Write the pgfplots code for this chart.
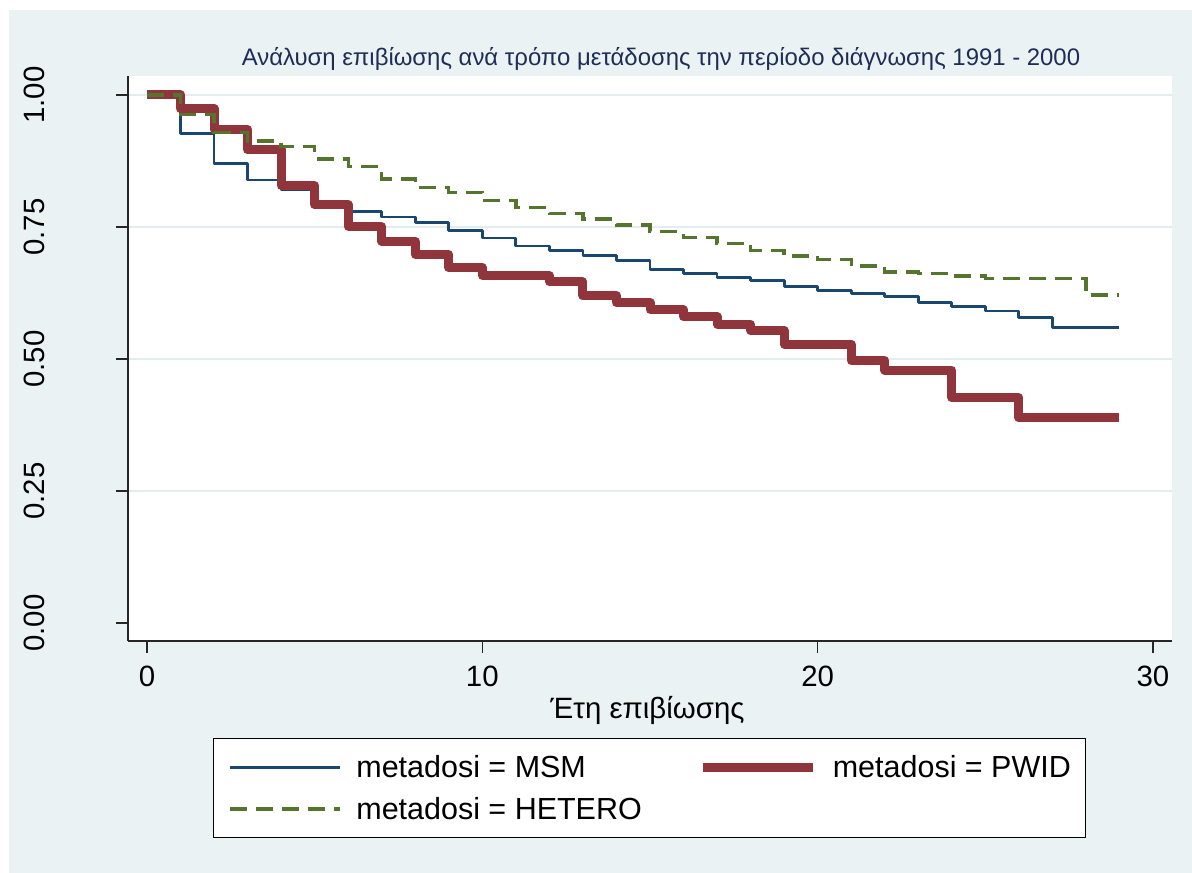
\documentclass[border=0pt]{standalone}
\usepackage{fontspec}
\setmainfont{Liberation Sans}
\usepackage{pgfplots}
\pgfplotsset{compat=1.18}
\definecolor{bgblue}{HTML}{EAF2F3}
\definecolor{gridc}{HTML}{E3ECEE}
\definecolor{msm}{HTML}{1A476F}
\definecolor{pwid}{HTML}{90353B}
\definecolor{hetero}{HTML}{55752F}
\definecolor{titlec}{HTML}{1E2D55}
\begin{document}
\begin{tikzpicture}
\fill[white] (0bp,0bp) rectangle (1192bp,873bp);
\fill[bgblue] (9bp,0bp) rectangle (1192bp,863bp);
\begin{axis}[
  at={(128bp,232bp)}, anchor=south west,
  width=1044bp, height=565bp, scale only axis,
  xmin=-0.567, xmax=30.567, ymin=-0.0341, ymax=1.036,
  axis background/.style={fill=white},
  axis x line*=bottom, axis y line*=left,
  axis line style={-, line width=1.2bp, black!85},
  xtick={0,10,20,30},
  ytick={0.25,0.5,0.75,1},
  extra y ticks={0},
  extra y tick style={grid=none},
  ymajorgrids,
  grid style={line width=2.5bp, gridc},
  tick align=outside,
  major tick length=12bp,
  tick style={line width=1.2bp, black!85},
  /pgf/number format/assume math mode=true,
  y tick label style={/pgf/number format/fixed, /pgf/number format/fixed zerofill, /pgf/number format/precision=2},
  yticklabel style={xshift=-71bp, rotate=90, anchor=south, inner sep=0pt, font=\fontsize{29.5}{30}\selectfont},
  xticklabel style={anchor=north, inner sep=0pt, yshift=-13bp, font=\fontsize{29.5}{30}\selectfont},
  title={Ανάλυση επιβίωσης ανά τρόπο μετάδοσης την περίοδο διάγνωσης 1991 - 2000},
  title style={at={(axis description cs:0.5,1)}, anchor=base, yshift=5bp, xshift=11bp, font=\fontsize{24}{28}\selectfont, text=titlec, inner sep=0pt},
  xlabel={Έτη επιβίωσης},
  xlabel style={at={(axis description cs:0.5,0)}, anchor=base, yshift=-77bp, xshift=-2.5bp, font=\fontsize{29.5}{30}\selectfont, inner sep=0pt},
  legend columns=2,
  legend cell align=left,
  legend image code/.code={\draw[#1] (0bp,0bp) -- (110bp,0bp);},
  legend style={at={(axis description cs:0.4995,-0.1717)}, anchor=north, draw=black, line width=1.2bp, fill=white,
    inner xsep=14.5bp, inner ysep=17bp, font=\fontsize{30.6}{36}\selectfont, row sep=18bp,
    nodes={inner sep=0pt},
    /tikz/every odd column/.append style={column sep=15bp},
    /tikz/every even column/.append style={column sep=57bp}},
]
\addplot[const plot, msm, line width=2.8bp, line join=round] coordinates {
(0,1.000) (1,0.927) (2,0.871) (3,0.839) (4,0.820) (5,0.795) (6,0.780) (7,0.769)
(8,0.759) (9,0.744) (10,0.729) (11,0.714) (12,0.706) (13,0.696) (14,0.686)
(15,0.670) (16,0.662) (17,0.654) (18,0.648) (19,0.638) (20,0.629) (21,0.624)
(22,0.618) (23,0.607) (24,0.599) (25,0.591) (26,0.578) (27,0.559) (29,0.559)};
\addlegendentry{metadosi = MSM}
\addplot[const plot, pwid, line width=9bp, line join=round] coordinates {
(0,1.000) (1,0.974) (2,0.935) (3,0.896) (4,0.828) (5,0.792) (6,0.751) (7,0.723)
(8,0.698) (9,0.673) (10,0.658) (12,0.646) (13,0.620) (14,0.607) (15,0.593)
(16,0.580) (17,0.566) (18,0.554) (19,0.528) (21,0.497) (22,0.479) (24,0.427)
(26,0.389) (29,0.389)};
\addlegendentry{metadosi = PWID\hspace{6bp}}
\addplot[const plot, hetero, line width=3.3bp, dash pattern=on 17bp off 9bp] coordinates {
(0,1.000) (1,0.963) (2,0.929) (3,0.913) (4,0.902) (5,0.879) (6,0.864) (7,0.841)
(8,0.825) (9,0.816) (10,0.800) (11,0.787) (12,0.776) (13,0.765) (14,0.754)
(15,0.741) (16,0.730) (17,0.719) (18,0.705) (19,0.695) (20,0.688) (21,0.676)
(22,0.665) (23,0.662) (24,0.657) (25,0.652) (28,0.621) (29,0.621)};
\addlegendentry{metadosi = HETERO}
\end{axis}
\end{tikzpicture}
\end{document}
